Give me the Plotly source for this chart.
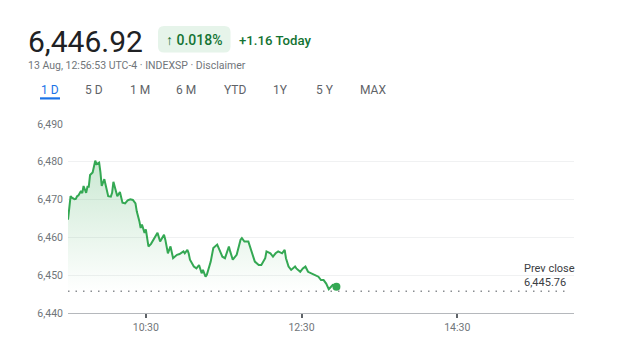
import plotly.graph_objects as go

# Intraday index level, 13 Aug (time of day, value)
times = [
    "09:30", "09:32", "09:33", "09:35", "09:36", "09:37", "09:38", "09:40", "09:41", "09:42",
    "09:44", "09:45", "09:46", "09:47", "09:49", "09:51", "09:52", "09:54", "09:55", "09:56",
    "09:58", "09:59", "10:01", "10:03", "10:04", "10:05", "10:07", "10:08", "10:10", "10:12",
    "10:14", "10:16", "10:18", "10:20", "10:22", "10:23", "10:25", "10:26", "10:27", "10:29",
    "10:30", "10:32", "10:34", "10:36", "10:39", "10:41", "10:44", "10:45", "10:47", "10:49",
    "10:51", "10:54", "10:56", "10:59", "11:00", "11:02", "11:03", "11:04", "11:07", "11:09",
    "11:11", "11:13", "11:14", "11:16", "11:17", "11:20", "11:22", "11:25", "11:26", "11:29",
    "11:31", "11:34", "11:35", "11:37", "11:40", "11:43", "11:44", "11:46", "11:49", "11:52",
    "11:54", "11:57", "11:59", "12:02", "12:03", "12:06", "12:08", "12:10", "12:12", "12:15",
    "12:17", "12:18", "12:20", "12:22", "12:25", "12:26", "12:29", "12:31", "12:33", "12:35",
    "12:38", "12:40", "12:43", "12:45", "12:47", "12:49", "12:51", "12:54", "12:56:53",
]
values = [
    6464.7, 6470.9, 6470.5, 6470.1, 6470.2, 6470.9, 6471.1, 6472.3, 6471.7, 6473.6,
    6471.8, 6473.4, 6473.4, 6476.5, 6477.2, 6480.3, 6479.4, 6479.8, 6477.2, 6473.6,
    6475.4, 6474.1, 6470.9, 6470.8, 6471.8, 6474.7, 6472.5, 6470.9, 6472.0, 6469.2,
    6469.0, 6469.8, 6470.1, 6469.9, 6469.0, 6466.9, 6464.3, 6462.5, 6463.4, 6461.2,
    6462.1, 6457.6, 6458.3, 6459.4, 6461.2, 6458.9, 6460.7, 6459.4, 6455.8, 6457.6,
    6454.5, 6455.4, 6455.6, 6456.3, 6455.8, 6456.7, 6455.8, 6454.1, 6452.3, 6451.8,
    6452.7, 6450.5, 6451.4, 6449.6, 6450.1, 6453.6, 6457.2, 6458.1, 6457.2, 6454.9,
    6454.5, 6457.6, 6456.3, 6454.1, 6455.4, 6459.4, 6459.8, 6458.9, 6458.9, 6455.8,
    6453.6, 6452.7, 6452.7, 6454.5, 6456.3, 6455.8, 6454.9, 6455.8, 6456.3, 6455.8,
    6456.7, 6454.5, 6452.3, 6451.4, 6452.3, 6451.8, 6450.9, 6451.8, 6452.3, 6450.9,
    6450.5, 6450.1, 6449.6, 6448.7, 6448.7, 6447.8, 6446.3, 6447.4, 6446.92,
]
prev_close = 6445.76
last_price = 6446.92
change_abs = 1.16
change_pct = 0.018

session_day = "2025-08-13"
session_open, session_close = "09:30", "16:00"
x_ticks = ["10:30", "12:30", "14:30"]
y_ticks = [6440, 6450, 6460, 6470, 6480, 6490]
ranges = ["1 D", "5 D", "1 M", "6 M", "YTD", "1Y", "5 Y", "MAX"]

GREEN = "#34a853"
DARK_GREEN = "#137333"
GREY = "#70757a"
FONT = "Roboto, Arial, sans-serif"

W, H = 629, 350
ML, MR, MT, MB = 68, 55, 124, 37
PW, PH = W - ML - MR, H - MT - MB


def px(x):
    return (x - ML) / PW


def py(y):
    return (H - MB - y) / PH


stamp = [f"{session_day} {t}" for t in times]

fig = go.Figure()

fig.add_trace(go.Scatter(
    x=stamp, y=values, mode="lines",
    line=dict(color=GREEN, width=2),
    fill="tozeroy",
    fillgradient=dict(
        type="vertical",
        colorscale=[[0, "rgba(52,168,83,0)"], [1, "rgba(52,168,83,0.26)"]],
        start=prev_close, stop=6481,
    ),
    hoverinfo="skip", showlegend=False,
))

fig.add_trace(go.Scatter(
    x=[stamp[-1]], y=[values[-1]], mode="markers",
    marker=dict(color=GREEN, size=8),
    hoverinfo="skip", showlegend=False,
))

# previous close reference line
fig.add_shape(type="line", xref="paper", yref="y", x0=0, x1=0.99,
              y0=prev_close, y1=prev_close,
              line=dict(color="#8a8d91", width=1.5, dash="1.5px,6px"))

# change badge
x0, x1, y0, y1 = px(158), px(230.5), py(52.5), py(26)
rx, ry = 6 / PW, 6 / PH
badge = (f"M{x0+rx},{y0} L{x1-rx},{y0} Q{x1},{y0} {x1},{y0+ry} L{x1},{y1-ry} "
         f"Q{x1},{y1} {x1-rx},{y1} L{x0+rx},{y1} Q{x0},{y1} {x0},{y1-ry} "
         f"L{x0},{y0+ry} Q{x0},{y0} {x0+rx},{y0} Z")
fig.add_shape(type="path", xref="paper", yref="paper", path=badge,
              fillcolor="#e6f4ea", line=dict(width=0), layer="below")

# selected range underline
fig.add_shape(type="rect", xref="paper", yref="paper",
              x0=px(40), x1=px(60), y0=py(99.5), y1=py(97.3),
              fillcolor="#1a73e8", line=dict(width=0))


def label(text, x, y, size, color, anchor="left", weight=None):
    fig.add_annotation(text=text, xref="paper", yref="paper",
                       x=px(x), y=py(y), xanchor=anchor, yanchor="middle",
                       showarrow=False,
                       font=dict(family=FONT, size=size, color=color,
                                 weight=weight))


label(f"{last_price:,.2f}", 26, 41.5, 30, "#202124")
label(f"↑ {change_pct:.3f}%", 164, 40, 14, DARK_GREEN, weight=500)
label(f"+{change_abs:.2f} Today", 237, 40, 13.2, DARK_GREEN, weight=500)
label("13 Aug, 12:56:53 UTC-4 · INDEXSP · Disclaimer", 26, 66, 10.5, GREY)

tab_centres = [50, 94, 139.5, 186, 234.7, 280, 324.5, 373]
for name, cx in zip(ranges, tab_centres):
    label(name, cx, 90, 12, "#1a73e8" if name == "1 D" else "#5f6368",
          anchor="center", weight=400)

label("Prev close", 522, 268, 11, "#3c4043")
label(f"{prev_close:,.2f}", 522, 282, 11, "#3c4043")

fig.update_layout(
    width=W, height=H,
    margin=dict(l=ML, r=MR, t=MT, b=MB),
    paper_bgcolor="white", plot_bgcolor="white",
    font=dict(family=FONT),
    hovermode=False,
    xaxis=dict(
        type="date",
        range=[f"{session_day} {session_open}", f"{session_day} {session_close}"],
        tickvals=[f"{session_day} {t}" for t in x_ticks], ticktext=x_ticks,
        ticks="outside", ticklen=4, tickwidth=1.5, tickcolor="#5f6368",
        showgrid=False, zeroline=False,
        showline=True, linecolor="#b5b8bc", linewidth=1.2,
        tickfont=dict(size=10.5, color=GREY),
    ),
    yaxis=dict(
        range=[6440, 6490],
        tickvals=y_ticks, ticktext=[f"{v:,}" for v in y_ticks],
        showgrid=True, gridcolor="#f0f1f2", gridwidth=1,
        zeroline=False, showline=False,
        ticks="", ticklabelstandoff=4,
        tickfont=dict(size=10.5, color=GREY),
    ),
)

fig.write_html("out.html")
